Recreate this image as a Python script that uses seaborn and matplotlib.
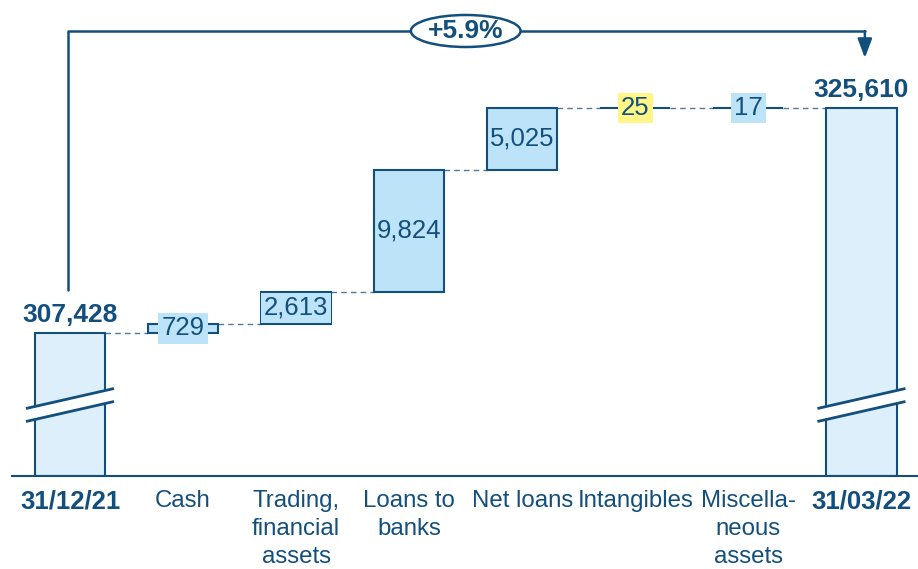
import numpy as np
import pandas as pd
import matplotlib.pyplot as plt
import seaborn as sns
from matplotlib.patches import Ellipse, Polygon

categories = ['31/12/21', 'Cash', 'Trading,\nfinancial\nassets', 'Loans to\nbanks',
              'Net loans', 'Intangibles', 'Miscella-\nneous\nassets', '31/03/22']
start_total = 307428
end_total = 325610
changes = [729, 2613, 9824, 5025, -25, 17]
change_labels = ['729', '2,613', '9,824', '5,025', '25', '17']
total_labels = ['307,428', '325,610']
growth_label = '+5.9%'

navy = '#134F7D'
total_fill = '#DDEFFB'
change_fill = '#BDE3F8'
neg_fill = '#FFF687'

# scale: pixels per unit, axis floor below the start total
ppu = (end_total - start_total) / 225
y0 = start_total - 143 * ppu
ytop = y0 + 476 * ppu

# waterfall geometry
running = [start_total]
for c in changes:
    running.append(running[-1] + c)
bottoms = [y0] + [min(running[i], running[i + 1]) for i in range(len(changes))] + [y0]
heights = [start_total - y0] + [abs(c) for c in changes] + [end_total - y0]
df = pd.DataFrame({'category': categories, 'bottom': bottoms, 'height': heights})

sns.set_style('white')
plt.rcParams['font.family'] = ['Liberation Sans', 'DejaVu Sans']

fig = plt.figure(figsize=(9.18, 5.69), dpi=100)
ax = fig.add_axes([12 / 918, 1 - 476 / 569, 1 - 12 / 918, 476 / 569])

bw = 0.62
sns.barplot(data=df, x='category', y='height', bottom=df['bottom'], order=categories,
            width=bw, errorbar=None, color=change_fill, edgecolor=navy,
            linewidth=1.5, ax=ax, zorder=2)
fills = [total_fill] + [change_fill] * len(changes) + [total_fill]
for patch, fc in zip(ax.patches, fills):
    patch.set_facecolor(fc)

# connectors
for i in range(len(changes) + 1):
    lvl = running[i]
    ax.plot([i + bw / 2, i + 1 - bw / 2], [lvl, lvl], color=navy, lw=1,
            ls=(0, (4, 3)), alpha=0.75, zorder=1)

# change labels
for k, (c, lab) in enumerate(zip(changes, change_labels)):
    i = k + 1
    yc = bottoms[i] + heights[i] / 2
    box = None
    if heights[i] < 40 * ppu:
        box = dict(boxstyle='square,pad=0.12', fc=neg_fill if c < 0 else change_fill, ec='none')
    ax.text(i, yc, lab, ha='center', va='center', fontsize=18.5, color=navy,
            bbox=box, zorder=5)

# totals
for i, (val, lab) in zip([0, len(categories) - 1], zip([start_total, end_total], total_labels)):
    ax.text(i, val + 11 * ppu, lab, ha='center', va='baseline', fontsize=19,
            fontweight='bold', color=navy, zorder=5)

# axis break marks on the total bars
dx = 44 / 113
rise = 10 * ppu
gap = 13 * ppu
yc = y0 + 71 * ppu
for i in [0, len(categories) - 1]:
    poly = Polygon([(i - dx, yc - rise - gap / 2), (i + dx, yc + rise - gap / 2),
                    (i + dx, yc + rise + gap / 2), (i - dx, yc - rise + gap / 2)],
                   closed=True, fc='white', ec='none', zorder=6)
    ax.add_patch(poly)
    for s in (-1, 1):
        ax.plot([i - dx, i + dx], [yc - rise + s * gap / 2, yc + rise + s * gap / 2],
                color=navy, lw=2, zorder=7, solid_capstyle='butt')

# growth bracket
ybr = y0 + 445 * ppu
x_end = len(categories) - 1
ax.plot([-0.02, -0.02, x_end + 0.03], [start_total + 43 * ppu, ybr, ybr],
        color=navy, lw=1.8, zorder=3)
ax.annotate('', xy=(x_end + 0.03, end_total + 50 * ppu), xytext=(x_end + 0.03, ybr + 1),
            arrowprops=dict(arrowstyle='-|>,head_length=0.72,head_width=0.27', color=navy,
                            lw=1.8, mutation_scale=16, shrinkA=0, shrinkB=0), zorder=3)
ax.add_patch(Ellipse((3.5, ybr), 0.97, 32 * ppu, fc='white', ec=navy, lw=1.8, zorder=4))
ax.text(3.5, ybr, growth_label, ha='center', va='center', fontsize=19,
        fontweight='bold', color=navy, zorder=5)

ax.set_xlim(-0.513, 7.5)
ax.set_ylim(y0, ytop)
ax.set_xlabel('')
ax.set_ylabel('')
ax.set_yticks([])
ax.set_xticks(range(len(categories)))
ax.set_xticklabels(categories, fontsize=17.3, color=navy, linespacing=1.36)
for t in ax.get_xticklabels():
    if t.get_text() in (categories[0], categories[-1]):
        t.set_fontweight('bold')
        t.set_fontsize(18.5)
ax.tick_params(axis='x', length=0, pad=10)
for side in ['left', 'right', 'top']:
    ax.spines[side].set_visible(False)
ax.spines['bottom'].set_color(navy)
ax.spines['bottom'].set_linewidth(1.5)
ax.patch.set_alpha(0)

fig.savefig('out.png', dpi=100)
